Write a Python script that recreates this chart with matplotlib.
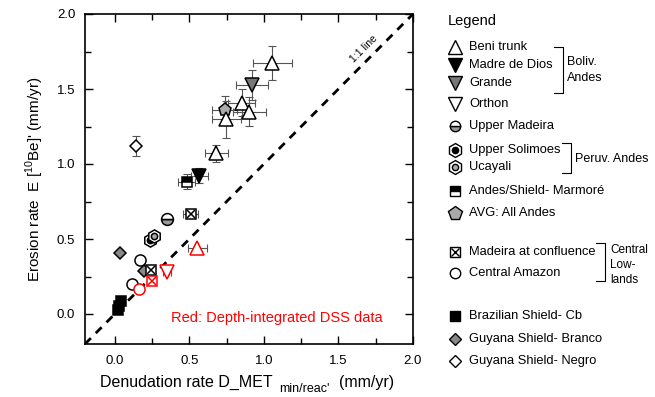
import matplotlib
matplotlib.use("Agg")
import matplotlib.pyplot as plt
from matplotlib.ticker import MultipleLocator

plt.rcParams['font.family'] = ['Liberation Sans', 'DejaVu Sans']

# --- data (mm/yr) ---
beni_x = [1.056, 0.850, 0.901, 0.749, 0.682]
beni_y = [1.671, 1.409, 1.349, 1.298, 1.071]
beni_xerr = [0.13, 0.09, 0.11, 0.095, 0.078]
beni_yerr = [0.114, 0.09, 0.095, 0.125, 0.059]

grande_x, grande_y, grande_xerr, grande_yerr = [0.921], [1.527], [0.106], [0.1]
madre_x, madre_y, madre_xerr, madre_yerr = [0.566], [0.922], [0.056], [0.05]
marmore_x, marmore_y, marmore_xerr, marmore_yerr = [0.481], [0.882], [0.056], [0.05]
avg_x, avg_y, avg_xerr, avg_yerr = [0.738], [1.36], [0.084], [0.09]
negro_x, negro_y, negro_yerr = [0.139], [1.12], [0.067]

madconf_x = [0.508, 0.244]
madconf_y = [0.665, 0.292]
madconf_xerr = [0.05, 0.0]
upmad_x, upmad_y = [0.349], [0.636]
ucayali_x, ucayali_y = [0.262], [0.522]
solimoes_x, solimoes_y = [0.237], [0.495]
camaz_x, camaz_y = [0.168, 0.116], [0.357, 0.2]
branco_x, branco_y = [0.038, 0.199], [0.409, 0.287]
cb_x, cb_y = [0.04, 0.025, 0.022], [0.085, 0.055, 0.03]

# red: depth-integrated DSS
dss_beni_x, dss_beni_y, dss_beni_xerr = [0.553], [0.442], [0.063]
dss_orthon_x, dss_orthon_y, dss_orthon_xerr = [0.35], [0.282], [0.03]
dss_madconf_x, dss_madconf_y = [0.25], [0.218]
dss_camaz_x, dss_camaz_y = [0.161], [0.167]

W, H = 655, 397
fig = plt.figure(figsize=(W / 100, H / 100), dpi=100)
ax = fig.add_axes([85 / W, 1 - 344 / H, 328 / W, 330 / H])

ecol = '#555555'
ebkw = dict(ecolor=ecol, elinewidth=0.8, capsize=3, capthick=0.8, ls='none', zorder=2)

ax.plot([-0.2, 2.0], [-0.2, 2.0], ls=(0, (3, 2.5)), color='black', lw=2, zorder=1)
ax.text(1.67, 1.77, '1:1 line', rotation=45, fontsize=7.5, ha='center', va='center')

ax.errorbar(beni_x, beni_y, xerr=beni_xerr, yerr=beni_yerr, **ebkw)
ax.errorbar(grande_x, grande_y, xerr=grande_xerr, yerr=grande_yerr, **ebkw)
ax.errorbar(madre_x, madre_y, xerr=madre_xerr, yerr=madre_yerr, **ebkw)
ax.errorbar(marmore_x, marmore_y, xerr=marmore_xerr, yerr=marmore_yerr, **ebkw)
ax.errorbar(avg_x, avg_y, xerr=avg_xerr, yerr=avg_yerr, **ebkw)
ax.errorbar(negro_x, negro_y, yerr=negro_yerr, **ebkw)
ax.errorbar(madconf_x, madconf_y, xerr=madconf_xerr, **ebkw)
ax.errorbar(dss_beni_x, dss_beni_y, xerr=dss_beni_xerr, **ebkw)
ax.errorbar(dss_orthon_x, dss_orthon_y, xerr=dss_orthon_xerr, **ebkw)

mk = dict(ls='none', mec='black', mew=1.1, zorder=3)
ax.plot(avg_x, avg_y, 'p', ms=9.5, mfc='#aaaaaa', **mk)
ax.plot(beni_x, beni_y, '^', ms=10, mfc='white', **mk)
ax.plot(grande_x, grande_y, 'v', ms=10, mfc='#777777', **mk)
ax.plot(madre_x, madre_y, 'v', ms=10, mfc='black', **mk)
ax.plot(marmore_x, marmore_y, 's', ms=7, mfc='black', fillstyle='top', markerfacecoloralt='white', **mk)
ax.plot(negro_x, negro_y, 'D', ms=6.5, mfc='white', **mk)
ax.plot(branco_x, branco_y, 'D', ms=6.5, mfc='#888888', **mk)
ax.plot(camaz_x, camaz_y, 'o', ms=8, mfc='white', **mk)
ax.plot(upmad_x, upmad_y, 'o', ms=8.5, mfc='#999999', fillstyle='bottom', markerfacecoloralt='white', **mk)
ax.plot(solimoes_x, solimoes_y, 'h', ms=9.5, mfc='white', **mk)
ax.plot(solimoes_x, solimoes_y, 'o', ms=4.5, mfc='black', **mk)
ax.plot(ucayali_x, ucayali_y, 'h', ms=9.5, mfc='white', **mk)
ax.plot(ucayali_x, ucayali_y, 'o', ms=4.5, mfc='#aaaaaa', **mk)
ax.plot(madconf_x, madconf_y, 's', ms=7.5, mfc='white', **mk)
ax.plot(madconf_x, madconf_y, 'x', ms=6, **mk)
ax.plot(cb_x, cb_y, 's', ms=7.5, mfc='black', **mk)

rk = dict(ls='none', mec='red', mew=1.1, mfc='white', zorder=3)
ax.plot(dss_beni_x, dss_beni_y, '^', ms=10, **rk)
ax.plot(dss_orthon_x, dss_orthon_y, 'v', ms=10, **rk)
ax.plot(dss_madconf_x, dss_madconf_y, 's', ms=7.5, **rk)
ax.plot(dss_madconf_x, dss_madconf_y, 'x', ms=6, **rk)
ax.plot(dss_camaz_x, dss_camaz_y, 'o', ms=8, **rk)

ax.text(0.38, -0.025, 'Red: Depth-integrated DSS data', color='red', fontsize=10.5, va='center')

ax.set_xlim(-0.2, 2.0)
ax.set_ylim(-0.2, 2.0)
ax.xaxis.set_major_locator(MultipleLocator(0.5))
ax.yaxis.set_major_locator(MultipleLocator(0.5))
ax.xaxis.set_minor_locator(MultipleLocator(0.25))
ax.yaxis.set_minor_locator(MultipleLocator(0.25))
ax.tick_params(which='both', direction='in', top=True, right=True, labelsize=9.5, width=1)
ax.tick_params(which='major', length=6)
ax.tick_params(axis='x', which='major', pad=8)
ax.tick_params(axis='y', which='major', pad=7)
ax.tick_params(which='minor', length=4)
for s in ax.spines.values():
    s.set_linewidth(1.2)
ax.set_ylabel("Erosion rate  E [$^{\\mathregular{10}}$Be]' (mm/yr)", fontsize=11, labelpad=8)

# x label built from pieces so the subscript keeps its size
fig.canvas.draw()
rend = fig.canvas.get_renderer()
t1 = fig.text(100 / W, 1 - 382 / H, 'Denudation rate D_MET', fontsize=11.5, va='center')
x1 = t1.get_window_extent(rend).x1
t2 = fig.text((x1 + 7) / W, 1 - 389 / H, "min/reac'", fontsize=9, va='center')
x2 = t2.get_window_extent(rend).x1
fig.text((x2 + 9) / W, 1 - 382 / H, '(mm/yr)', fontsize=11.5, va='center')

# --- legend panel drawn in pixel coordinates ---
lg = fig.add_axes([0, 0, 1, 1], zorder=-1)
lg.set_xlim(0, W)
lg.set_ylim(H, 0)
lg.axis('off')
fs = 9.3
gfs = 9
lg.text(448, 21, 'Legend', fontsize=10.5, va='center')

entries = [
    (47, '^', dict(mfc='white'), 'Beni trunk'),
    (65, 'v', dict(mfc='black'), 'Madre de Dios'),
    (83, 'v', dict(mfc='#777777'), 'Grande'),
    (104, 'v', dict(mfc='white'), 'Orthon'),
    (126, 'o', dict(mfc='#999999', fillstyle='bottom', markerfacecoloralt='white'), 'Upper Madeira'),
    (150, 'h', dict(mfc='white'), 'Upper Solimoes'),
    (167, 'h', dict(mfc='white'), 'Ucayali'),
    (191, 's', dict(mfc='black', fillstyle='top', markerfacecoloralt='white'), 'Andes/Shield- Marmoré'),
    (213, 'p', dict(mfc='#aaaaaa'), 'AVG: All Andes'),
    (252, 's', dict(mfc='white'), 'Madeira at confluence'),
    (273, 'o', dict(mfc='white'), 'Central Amazon'),
    (316, 's', dict(mfc='black'), 'Brazilian Shield- Cb'),
    (339, 'D', dict(mfc='#888888'), 'Guyana Shield- Branco'),
    (361, 'D', dict(mfc='white'), 'Guyana Shield- Negro'),
]
for y, m, kw, label in entries:
    size = 10 if m in '^vhp' else 7.5
    if m == 'D':
        size = 6.5
    lg.plot([455], [y], m, ms=size, ls='none', mec='black', mew=1, **kw)
    lg.text(469, y, label, fontsize=fs, va='center')
lg.plot([455], [150], 'o', ms=4.5, mfc='black', mec='black', mew=1)
lg.plot([455], [167], 'o', ms=4.5, mfc='#aaaaaa', mec='black', mew=1)
lg.plot([455], [252], 'x', ms=6, mec='black', mew=1)

# group brackets
def bracket(x, y0, y1, w=9):
    lg.plot([x - w, x, x, x - w], [y0, y0, y1, y1], color='black', lw=0.8)

bracket(563, 47, 93)
lg.text(567, 62, 'Boliv.', fontsize=gfs, va='center')
lg.text(567, 78, 'Andes', fontsize=gfs, va='center')
bracket(571, 143, 173)
lg.text(575, 159, 'Peruv. Andes', fontsize=gfs, va='center')
bracket(605, 243, 281)
lg.text(610, 250, 'Central', fontsize=8.5, va='center')
lg.text(610, 265, 'Low-', fontsize=8.5, va='center')
lg.text(610, 280, 'lands', fontsize=8.5, va='center')

fig.savefig('out.png', dpi=100)
